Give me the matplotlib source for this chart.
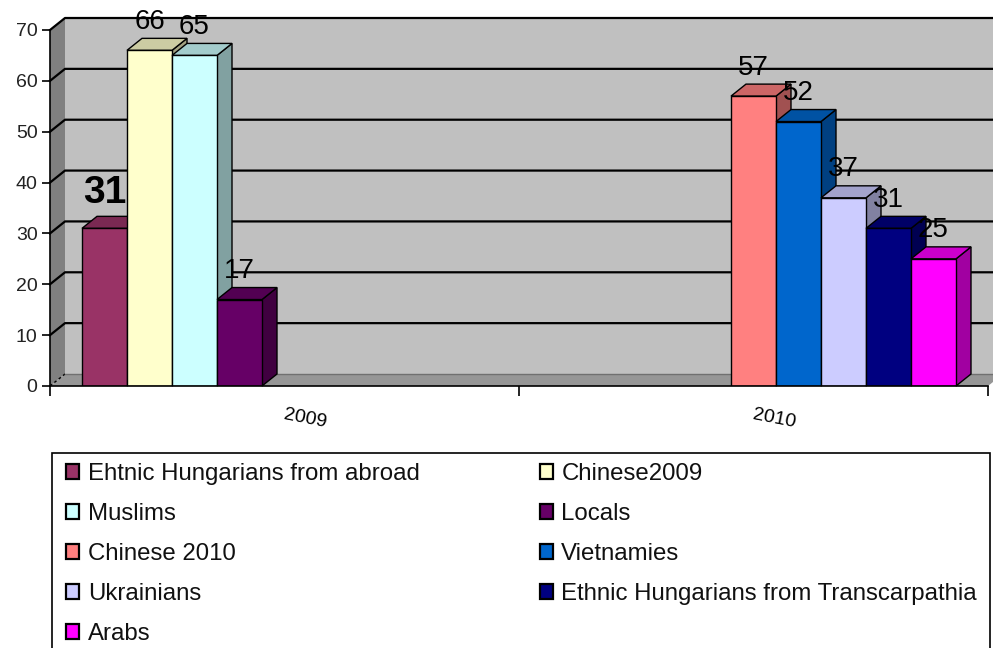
import numpy as np
import matplotlib
matplotlib.use("Agg")
import matplotlib.pyplot as plt
import matplotlib.transforms as mtransforms
from matplotlib.patches import Polygon, Rectangle
from matplotlib.colors import to_rgb

plt.rcParams['font.family'] = ['Liberation Sans', 'DejaVu Sans']

# survey data
years = ['2009', '2010']
groups = ['Ehtnic Hungarians from abroad', 'Chinese2009', 'Muslims', 'Locals',
          'Chinese 2010', 'Vietnamies', 'Ukrainians',
          'Ethnic Hungarians from Transcarpathia', 'Arabs']
group_year = [0, 0, 0, 0, 1, 1, 1, 1, 1]
values = [31, 66, 65, 17, 57, 52, 37, 31, 25]
colors = ['#993366', '#FFFFCC', '#CCFFFF', '#660066', '#FF8080',
          '#0066CC', '#CCCCFF', '#000080', '#FF00FF']

W, H = 993, 648
fig = plt.figure(figsize=(W / 100, H / 100), dpi=100)

# front plane of the plot box, in pixels
left, right, bottom, top = 50, 988, 386, 30
ax = fig.add_axes([left / W, (H - bottom) / H, (right - left) / W, (bottom - top) / H])
ymax = 70
ax.set_xlim(-0.5, 1.5)
ax.set_ylim(0, ymax)
ax.patch.set_visible(False)

# depth of the 3d box in data units (15 px right, 12 px up)
px_x = (right - left) / 2.0
px_y = (bottom - top) / ymax
ddx = 15 / px_x
ddy = 12 / px_y
x0, x1 = -0.5, 1.5


def shade(c, f):
    r, g, b = to_rgb(c)
    return (r * f, g * f, b * f)


def poly(pts, fc, z, ec='none', lw=0):
    ax.add_patch(Polygon(pts, closed=True, facecolor=fc, edgecolor=ec,
                         linewidth=lw, zorder=z, clip_on=False))


# walls and floor
poly([(x0 + ddx, ddy), (x1 + ddx, ddy), (x1 + ddx, ymax + ddy), (x0 + ddx, ymax + ddy)], '#c0c0c0', 0.5)
poly([(x0, 0), (x0 + ddx, ddy), (x0 + ddx, ymax + ddy), (x0, ymax)], '#808080', 0.5)
poly([(x0, 0), (x1, 0), (x1 + ddx, ddy), (x0 + ddx, ddy)], '#969696', 0.5)

# gridlines on the side and back walls
for v in range(10, ymax + 1, 10):
    ax.plot([x0, x0 + ddx, x1 + ddx], [v, v + ddy, v + ddy], color='black',
            lw=1.6, zorder=0.6, clip_on=False)
ax.plot([x0, x0 + ddx], [0, ddy], color='black', lw=1, ls=(0, (2, 2)), zorder=0.6, clip_on=False)
ax.plot([x0 + ddx, x1 + ddx], [ddy, ddy], color='#707070', lw=1, zorder=0.6, clip_on=False)

# columns
n = len(groups)
w = (405 / 469) / n
for j in range(n):
    yr = group_year[j]
    xs = yr - 0.5 + (1 - n * w) / 2 + j * w
    v = values[j]
    z = 2 + j
    c = colors[j]
    poly([(xs + w, 0), (xs + w + ddx, ddy), (xs + w + ddx, v + ddy), (xs + w, v)],
         shade(c, 0.63), z, 'black', 1)
    poly([(xs, v), (xs + w, v), (xs + w + ddx, v + ddy), (xs + ddx, v + ddy)],
         shade(c, 0.8), z, 'black', 1)
    ax.bar(xs, v, width=w, align='edge', color=c, edgecolor='black',
           linewidth=1, zorder=z + 0.1, label=groups[j])
    if j == 0:
        ax.text(xs + w / 2, v + ddy + 1, str(v), ha='center', va='bottom',
                fontsize=28, fontweight='bold', zorder=20)
    else:
        ax.text(xs + w / 2, v + ddy + 0.7, str(v), ha='center', va='bottom',
                fontsize=20, zorder=20)

# axes lines and ticks
for s in ['top', 'right']:
    ax.spines[s].set_visible(False)
ax.spines['left'].set_zorder(30)
ax.spines['bottom'].set_zorder(30)
ax.spines['left'].set_linewidth(1.2)
ax.spines['bottom'].set_linewidth(1.2)
ax.set_yticks(range(0, ymax + 1, 10))
ax.tick_params(axis='y', direction='out', length=6, width=1.2, labelsize=14,
               labelcolor='#222222', pad=3)
ax.set_xticks([-0.5, 0.5, 1.5])
ax.set_xticklabels([])
ax.tick_params(axis='x', direction='out', length=7, width=1.2)

off = mtransforms.ScaledTranslation(0.205, -0.33, fig.dpi_scale_trans)
for i, yname in enumerate(years):
    ax.text(i, 0, yname, transform=ax.transData + off, ha='center', va='center',
            fontsize=14, rotation=-11)

# legend: row-wise order, two columns
handles, labels = ax.get_legend_handles_labels()
order = [0, 2, 4, 6, 8, 1, 3, 5, 7]
fig.add_artist(Rectangle((52 / W, -20 / H), (990 - 52) / W, (H - 453 + 20) / H,
                         transform=fig.transFigure, facecolor='white',
                         edgecolor='black', linewidth=1.2))
leg = fig.legend([handles[k] for k in order], [labels[k] for k in order],
                 loc='upper left', bbox_to_anchor=(66 / W, (H - 463) / H),
                 ncol=2, frameon=False, fontsize=17.3, borderpad=0,
                 borderaxespad=0, handlelength=0.55, handleheight=0.55,
                 handletextpad=0.35, labelspacing=0.75, columnspacing=5.0)
for t in leg.get_texts():
    t.set_color('#111111')
for p in leg.get_patches():
    p.set_linewidth(1.6)

fig.savefig('out.png', dpi=100)
